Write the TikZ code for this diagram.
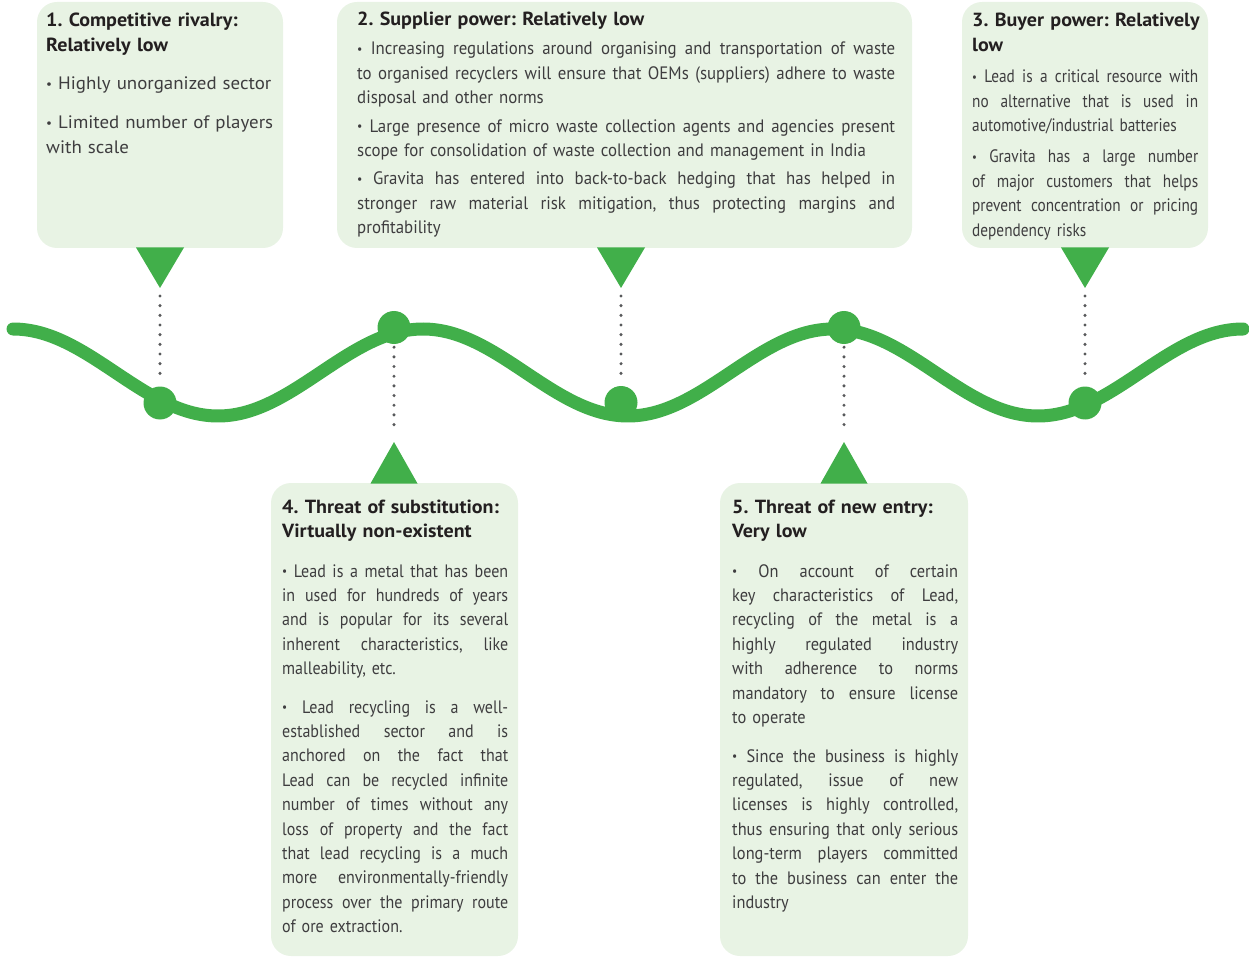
\documentclass[tikz,border=0pt]{standalone}
\usepackage{fontspec}
\setmainfont{PT Sans}
\newfontfamily\bodyA{PT Sans}[FakeStretch=1.05]
\newfontfamily\bodyB{PT Sans}[FakeStretch=0.935]
\newfontfamily\bodyC{PT Sans}[FakeStretch=0.85]
\newfontfamily\bodyD{PT Sans}[FakeStretch=0.89]
\newfontfamily\bodyE{PT Sans}[FakeStretch=0.91]
\newfontfamily\titlefam{PT Sans}[FakeStretch=1.055]
\definecolor{wavegreen}{HTML}{41AF4A}
\definecolor{panelfill}{HTML}{E8F3E4}
\definecolor{dotgray}{HTML}{58595B}
\definecolor{titlecol}{HTML}{231F20}
\definecolor{bodycol}{HTML}{3E3D3F}
\newlength\jlw
\newcommand\bul{\raisebox{1.6pt}{\scalebox{0.7}{•}}}
\newcommand\jl[1]{\hbox to\jlw{\spaceskip=\fontdimen2\font plus 1fil\relax#1}\par}
\begin{document}
\begin{tikzpicture}[x=1pt,y=-1pt,
  panel/.style={rectangle, rounded corners=20pt, fill=panelfill, draw=none, inner sep=0pt},
  dot/.style={circle, fill=wavegreen, draw=none, minimum size=33pt, inner sep=0pt},
  dotline/.style={draw=dotgray, line width=3.4pt, line cap=round, dash pattern=on 0pt off 9.67pt},
  wave/.style={draw=wavegreen, line width=13pt, line cap=round},
  ttl/.style={anchor=base west, inner sep=0pt, text width=#1, align=left, text=titlecol,
     font={\fontsize{19pt}{24.4pt}\titlefam\bfseries\frenchspacing}},
  para/.style={anchor=base west, inner sep=0pt, text width=#1, text=bodycol,
     execute at begin node={\setlength\jlw{#1}\frenchspacing}},
  fa/.style={font={\fontsize{18pt}{24.4pt}\bodyA}},
  fb/.style={font={\fontsize{18pt}{24.4pt}\bodyB}},
  fc/.style={font={\fontsize{18pt}{24.4pt}\bodyC}},
  fd/.style={font={\fontsize{18pt}{24.4pt}\bodyD}},
  fe/.style={font={\fontsize{18pt}{24.4pt}\bodyE}}
]
\useasboundingbox (0,0) rectangle (1249,957);
% panels
\node[panel, minimum width=246pt, minimum height=246pt] (p1) at (160,125) {};
\node[panel, minimum width=575pt, minimum height=246pt] (p2) at (624.5,125) {};
\node[panel, minimum width=246pt, minimum height=246pt] (p3) at (1085,125) {};
\node[panel, minimum width=247pt, minimum height=473pt] (p4) at (394.5,719.5) {};
\node[panel, minimum width=248pt, minimum height=473pt] (p5) at (844,719.5) {};
% triangle tips
\coordinate (tip1) at (160,288);
\coordinate (tip2) at (621,288);
\coordinate (tip3) at (1085,288);
\coordinate (tip4) at (394,442);
\coordinate (tip5) at (844,442);
\fill[wavegreen] (136,247.5) -- (184,247.5) -- (tip1) -- cycle;
\fill[wavegreen] (597,247.5) -- (645,247.5) -- (tip2) -- cycle;
\fill[wavegreen] (1061,247.5) -- (1109,247.5) -- (tip3) -- cycle;
\fill[wavegreen] (370.5,483.5) -- (417.5,483.5) -- (tip4) -- cycle;
\fill[wavegreen] (820.5,483.5) -- (867.5,483.5) -- (tip5) -- cycle;
% wave
\draw[wave] plot[domain=13:1243, samples=400, smooth] (\x, {372.5-43.5*cos((\x-13)*0.878049)});
% dots
\node[dot] (d1) at (160,403) {};
\node[dot] (d2) at (394,327.5) {};
\node[dot] (d3) at (621,402.5) {};
\node[dot] (d4) at (844,327.5) {};
\node[dot] (d5) at (1085,403) {};
% dotted connectors
\draw[dotline, shorten <=8pt, shorten >=3.5pt] (tip1) -- (d1);
\draw[dotline, shorten <=8pt, shorten >=3.5pt] (tip2) -- (d3);
\draw[dotline, shorten <=8pt, shorten >=3.5pt] (tip3) -- (d5);
\draw[dotline, shorten <=3pt, shorten >=8pt] (d2) -- (tip4);
\draw[dotline, shorten <=3pt, shorten >=8pt] (d4) -- (tip5);
% box 1
\node[ttl=232pt] (t1) at (46,27) {1. Competitive rivalry:\\Relatively low};
\node[para=228pt, fa] (b1a) at (46,90) {\bul{} Highly unorganized sector};
\node[para=230pt, fa] (b1b) at (46,129) {\bul{} Limited number of players\par with scale};
% box 2
\node[ttl=538pt] (t2) at (357,26) {2. Supplier power: Relatively low};
\node[para=538pt, fb] (b2a) at (357,55) {\jl{\bul{} Increasing regulations around organising and transportation of waste}\jl{to organised recyclers will ensure that OEMs (suppliers) adhere to waste}disposal and other norms};
\node[para=538pt, fb] (b2b) at (357,132.5) {\jl{\bul{} Large presence of micro waste collection agents and agencies present}scope for consolidation of waste collection and management in India};
\node[para=538pt, fb] (b2c) at (357,185) {\jl{\bul{} Gravita has entered into back-to-back hedging that has helped in}\jl{stronger raw material risk mitigation, thus protecting margins and}profitability};
% box 3
\node[ttl=232pt] (t3) at (972,27) {3. Buyer power: Relatively\\low};
\node[para=226pt, fc] (b3a) at (972,83) {\jl{\bul{} Lead is a critical resource with}\jl{no alternative that is used in}automotive/industrial batteries};
\node[para=226pt, fc] (b3b) at (972,163) {\jl{\bul{} Gravita has a large number}\jl{of major customers that helps}\jl{prevent concentration or pricing}dependency risks};
% box 4
\node[ttl=232pt] (t4) at (282,513) {4. Threat of substitution:\\Virtually non-existent};
\node[para=226pt, fd] (b4a) at (282,577) {\jl{\bul{} Lead is a metal that has been}\jl{in used for hundreds of years}\jl{and is popular for its several}\jl{inherent characteristics, like}malleability, etc.};
\node[para=226pt, fd] (b4b) at (282,713) {\jl{\bul{} Lead recycling is a well-}\jl{established sector and is}\jl{anchored on the fact that}\jl{Lead can be recycled infinite}\jl{number of times without any}\jl{loss of property and the fact}\jl{that lead recycling is a much}\jl{more environmentally-friendly}\jl{process over the primary route}of ore extraction.};
% box 5
\node[ttl=232pt] (t5) at (732,513) {5. Threat of new entry:\\Very low};
\node[para=226pt, fe] (b5a) at (732,577) {\jl{\bul{} On account of certain}\jl{key characteristics of Lead,}\jl{recycling of the metal is a}\jl{highly regulated industry}\jl{with adherence to norms}\jl{mandatory to ensure license}to operate};
\node[para=226pt, fe] (b5b) at (732,762) {\jl{\bul{} Since the business is highly}\jl{regulated, issue of new}\jl{licenses is highly controlled,}\jl{thus ensuring that only serious}\jl{long-term players committed}\jl{to the business can enter the}industry};
\end{tikzpicture}
\end{document}
